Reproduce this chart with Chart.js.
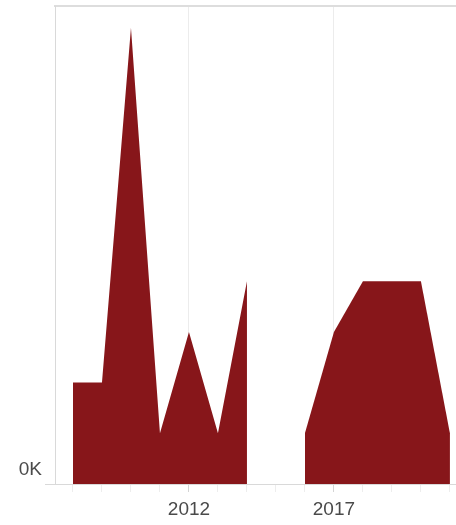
<!DOCTYPE html>
<html>
<head>
<meta charset="utf-8">
<script src="https://cdn.jsdelivr.net/npm/chart.js@4"></script>
<style>
  body { margin: 0; background: #fff; }
  #wrap { width: 456px; height: 525px; }
</style>
</head>
<body>
<div id="wrap"><canvas id="myChart" width="456" height="525"></canvas></div>
<script>
"use strict"

const years = [2008, 2009, 2010, 2011, 2012, 2013, 2014, 2015, 2016, 2017, 2018, 2019, 2020, 2021];
const amounts = [2, 2, 9, 1, 3, 1, 4, null, 1, 3, 4, 4, 4, 1];
const yearLabels = [2012, 2017];
const areaColor = "#87161a";

const ctx = document.getElementById('myChart');

new Chart(ctx, {
    type: 'line',
    data: {
        datasets: [{
            data: years.map((y, i) => ({ x: y, y: amounts[i] })),
            backgroundColor: areaColor,
            borderWidth: 0,
            pointRadius: 0,
            tension: 0,
            fill: 'origin',
            spanGaps: false,
        }]
    },
    options: {
        responsive: false,
        animation: false,
        layout: { padding: { top: 6, right: 0, left: 0, bottom: 0 } },
        plugins: { legend: { display: false }, tooltip: { enabled: false } },
        scales: {
            x: {
                type: 'linear',
                min: 2007.38,
                max: 2021.21,
                afterBuildTicks: scale => {
                    scale.ticks = years.map(y => ({ value: y }));
                },
                afterFit: scale => {
                    scale.height = 41;
                    scale.paddingLeft = 0;
                    scale.paddingRight = 0;
                },
                grid: {
                    color: c => yearLabels.includes(c.tick && c.tick.value) ? "#ececec" : "rgba(0,0,0,0)",
                    tickColor: c => yearLabels.includes(c.tick && c.tick.value) ? "#d4d4d4" : "#ededed",
                    tickLength: 8,
                },
                border: { color: "#d9d9d9" },
                ticks: {
                    autoSkip: false,
                    maxRotation: 0,
                    padding: 6,
                    color: "#4a4a4a",
                    font: { family: "Arial", size: 19 },
                    callback: v => yearLabels.includes(v) ? String(v) : "",
                },
            },
            x2: {
                type: 'linear',
                position: 'top',
                min: 2007.38,
                max: 2021.21,
                afterFit: scale => {
                    scale.height = 0;
                    scale.paddingLeft = 0;
                    scale.paddingRight = 0;
                },
                grid: { display: false },
                ticks: { display: false },
                border: { color: "#dddddd", width: 2 },
            },
            y: {
                min: 0,
                max: 9.43,
                afterBuildTicks: scale => { scale.ticks = [{ value: 0 }]; },
                afterFit: scale => {
                    scale.width = 55;
                    scale.paddingTop = 0;
                    scale.paddingBottom = 0;
                },
                grid: {
                    color: "rgba(0,0,0,0)",
                    tickColor: "#d9d9d9",
                    tickLength: 10,
                },
                border: { color: "#d9d9d9" },
                ticks: {
                    padding: 3,
                    labelOffset: -14,
                    color: "#4a4a4a",
                    font: { family: "Arial", size: 19 },
                    callback: v => (v / 1000) + "K",
                },
            },
        },
    }
});
</script>
</body>
</html>
